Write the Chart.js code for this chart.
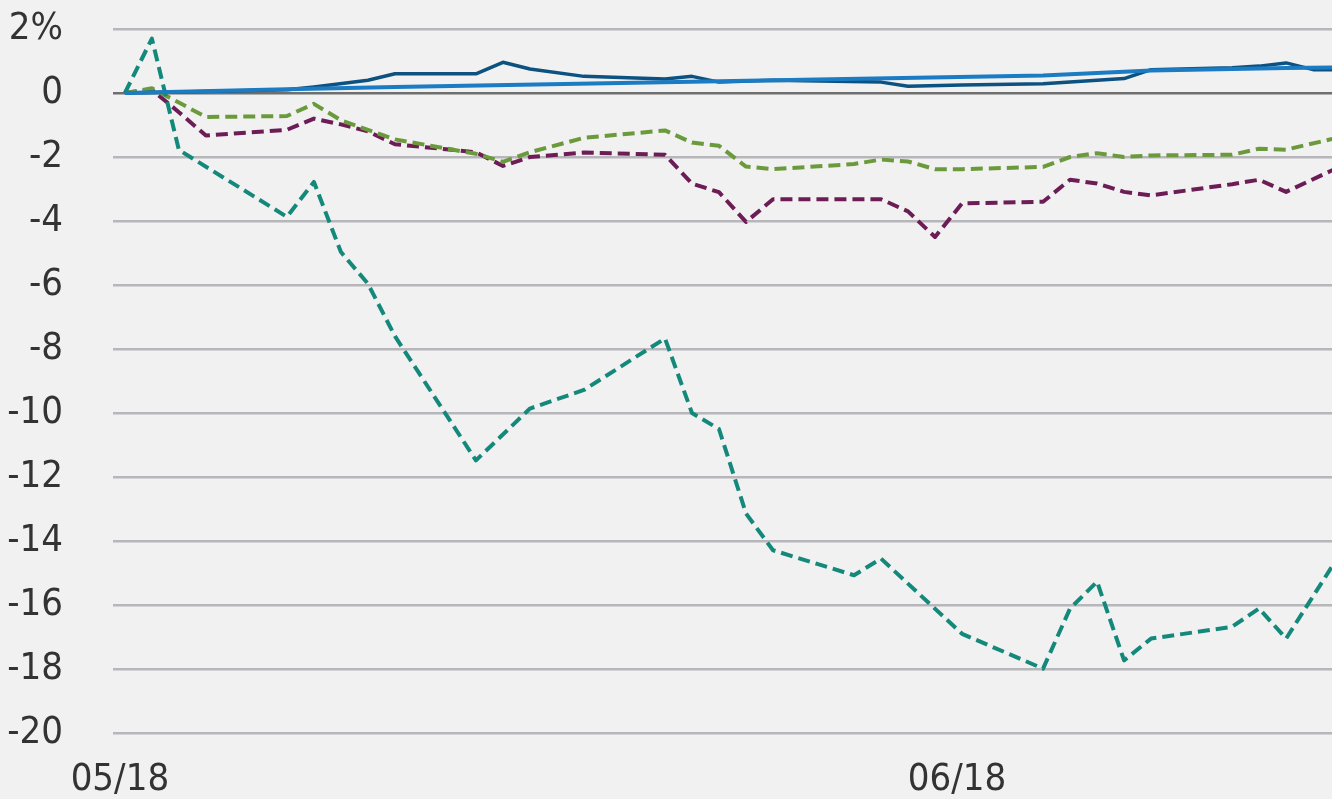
<!DOCTYPE html>
<html lang="en">
<head>
    <meta charset="UTF-8">
    <title>Performance since 05/18</title>
    <script src="https://cdn.jsdelivr.net/npm/chart.js"></script>
    <style>
        body {
            margin: 0;
            background-color: #f1f1f1;
        }
        #wrap {
            width: 1332px;
            height: 799px;
        }
    </style>
</head>
<body>
    <div id="wrap"><canvas id="perfChart" width="1332" height="799"></canvas></div>

    <script>
        // x = calendar days after the start date
        const tickDays = [0, 31];
        const tickLabels = ['05/18', '06/18'];
        const yTicks = [-20, -18, -16, -14, -12, -10, -8, -6, -4, -2, 0, 2];

        const tealDays = [0, 1, 2, 6, 7, 8, 9, 10, 13, 15, 17, 20, 21, 22, 23, 24, 27, 28, 31, 34, 35, 36, 37, 38, 41, 42, 43, 45];
        const tealValues = [0, 1.7, -1.78, -3.87, -2.78, -4.97, -5.96, -7.6, -11.48, -9.86, -9.28, -7.67, -10.0, -10.5, -13.14, -14.29, -15.07, -14.55, -16.9, -17.99, -16.11, -15.27, -17.73, -17.05, -16.68, -16.11, -17.05, -14.4];

        const purpleDays = [0, 1, 2, 3, 6, 7, 8, 9, 10, 13, 14, 15, 17, 20, 21, 22, 23, 24, 27, 28, 29, 30, 31, 34, 35, 36, 37, 38, 41, 42, 43, 45];
        const purpleValues = [0, 0.1, -0.6, -1.33, -1.15, -0.8, -0.98, -1.2, -1.6, -1.85, -2.28, -2.0, -1.86, -1.93, -2.83, -3.1, -4.03, -3.32, -3.32, -3.32, -3.7, -4.5, -3.45, -3.4, -2.71, -2.83, -3.09, -3.2, -2.85, -2.71, -3.09, -2.3];

        const greenDays = [0, 1, 2, 3, 6, 7, 8, 9, 10, 13, 14, 15, 17, 20, 21, 22, 23, 24, 27, 28, 29, 30, 31, 34, 35, 36, 37, 38, 41, 42, 43, 45];
        const greenValues = [0, 0.15, -0.3, -0.75, -0.72, -0.34, -0.85, -1.15, -1.45, -1.9, -2.15, -1.85, -1.4, -1.17, -1.55, -1.65, -2.3, -2.38, -2.22, -2.08, -2.14, -2.38, -2.38, -2.31, -2.0, -1.88, -2.0, -1.95, -1.93, -1.74, -1.77, -1.38];

        const navyDays = [0, 2, 6, 7, 9, 10, 13, 14, 15, 17, 20, 21, 22, 24, 28, 29, 31, 34, 37, 38, 41, 42, 43, 44, 45];
        const navyValues = [0, 0.03, 0.1, 0.19, 0.4, 0.6, 0.6, 0.96, 0.75, 0.52, 0.44, 0.52, 0.34, 0.4, 0.34, 0.21, 0.25, 0.29, 0.45, 0.73, 0.79, 0.84, 0.94, 0.73, 0.73];

        const blueDays = [0, 6, 10, 22, 34, 38, 43, 45];
        const blueValues = [0, 0.12, 0.19, 0.37, 0.55, 0.7, 0.78, 0.8];

        function toPoints(days, values) {
            return days.map((d, i) => ({ x: d, y: values[i] }));
        }

        const font = { family: '"DejaVu Sans Condensed", "DejaVu Sans", sans-serif', size: 38 };

        const ctx = document.getElementById('perfChart').getContext('2d');

        const chart = new Chart(ctx, {
            type: 'line',
            data: {
                datasets: [
                    { data: toPoints(blueDays, blueValues), borderColor: '#1b7bc3', borderWidth: 4 },
                    { data: toPoints(navyDays, navyValues), borderColor: '#0c5180', borderWidth: 3.5 },
                    { data: toPoints(tealDays, tealValues), borderColor: '#14897b', borderWidth: 4, borderDash: [12, 6] },
                    { data: toPoints(greenDays, greenValues), borderColor: '#6b9a3c', borderWidth: 4, borderDash: [12, 6] },
                    { data: toPoints(purpleDays, purpleValues), borderColor: '#6c1d55', borderWidth: 4, borderDash: [12, 6] }
                ]
            },
            options: {
                responsive: false,
                animation: false,
                layout: { padding: { top: 29, right: 0, left: 0, bottom: 0 } },
                elements: {
                    point: { radius: 0 },
                    line: { tension: 0, borderCapStyle: 'butt', borderJoinStyle: 'round' }
                },
                plugins: {
                    legend: { display: false },
                    tooltip: { enabled: false }
                },
                scales: {
                    x: {
                        type: 'linear',
                        min: -0.44,
                        max: 44.7,
                        afterBuildTicks: s => { s.ticks = tickDays.map(v => ({ value: v })); },
                        afterFit: s => { s.height = 66; s.paddingLeft = 0; s.paddingRight = 0; },
                        grid: { display: false, drawTicks: false },
                        border: { display: false },
                        ticks: {
                            font: font,
                            color: '#333',
                            padding: 24,
                            maxRotation: 0,
                            labelOffset: -5,
                            callback: v => tickLabels[tickDays.indexOf(v)]
                        }
                    },
                    y: {
                        min: -20,
                        max: 2,
                        afterBuildTicks: s => { s.ticks = yTicks.map(v => ({ value: v })); },
                        // keep the wide label gap from adding space above and below the plot
                        afterFit: s => { s.width = 113; s.paddingTop = 0; s.paddingBottom = 0; },
                        grid: {
                            drawTicks: false,
                            lineWidth: 2.5,
                            color: c => (c.tick && c.tick.value === 0) ? '#6f6f6f' : '#b7b7bb'
                        },
                        border: { display: false },
                        ticks: {
                            font: font,
                            color: '#333',
                            padding: 50,
                            callback: v => v === 2 ? '2%' : String(v)
                        }
                    }
                }
            }
        });
    </script>
</body>
</html>
